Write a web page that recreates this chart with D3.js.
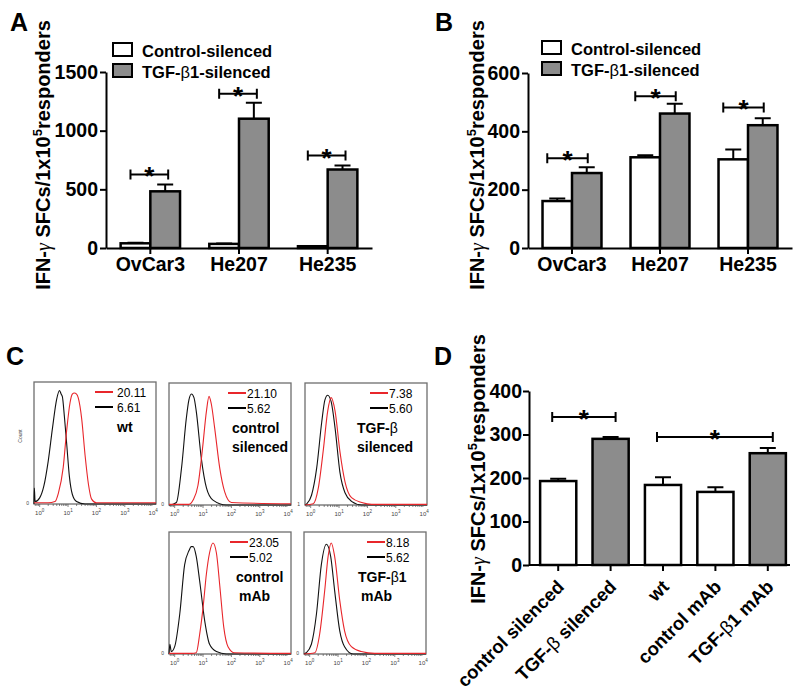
<!DOCTYPE html>
<html>
<head>
<meta charset="utf-8">
<script src="https://cdn.jsdelivr.net/npm/d3@7"></script>
<style>
  body { margin: 0; background: #fff; }
  text { font-family: "Liberation Sans", Arial, sans-serif; }
</style>
</head>
<body>
<svg id="fig" width="800" height="696"></svg>
<script>
// ---- data ----
const cellLines = ["OvCar3", "He207", "He235"];
const seriesNames = ["Control-silenced", "TGF-β1-silenced"];

// panel A (IFN-g SFCs, mean and mean+SEM)
const aControl = [40, 35, 15];
const aControlTop = [44, 39, 18];
const aTgf = [483, 1102, 669];
const aTgfTop = [542, 1237, 703];
const aSigLevel = [627, 1314, 788];

// panel B
const bControl = [161, 311, 304];
const bControlTop = [170, 318, 338];
const bTgf = [257, 461, 421];
const bTgfTop = [277, 495, 445];
const bSigLevel = [308, 520, 482];

// panel D
const dGroups = ["control silenced", "TGF-β silenced", "wt", "control mAb", "TGF-β1 mAb"];
const dValues = [193, 290, 184, 168, 257];
const dTop = [198, 294, 202, 179, 269];
const dFilled = [false, true, false, false, true];
const dSig = [[0, 1, 340], [2, 4, 294]];

// panel C: histograms as [log10 fluorescence, relative count]
const wtBlack = [[-0.2,0],[-0.19,0.13],[-0.16,0.02],[0,0.05],[0.15,0.15],[0.3,0.35],[0.45,0.62],[0.6,0.86],[0.7,0.93],[0.76,0.9],[0.8,0.88],[0.87,0.72],[0.95,0.5],[1.05,0.22],[1.15,0.08],[1.3,0.02],[1.6,0],[4.1,0]];
const wtRed = [[-0.2,0.01],[0.3,0.01],[0.54,0.02],[0.66,0.09],[0.83,0.3],[0.95,0.6],[1.07,0.83],[1.15,0.9],[1.22,0.91],[1.3,0.9],[1.36,0.87],[1.48,0.7],[1.6,0.4],[1.72,0.16],[1.83,0.04],[2,0.01],[4.1,0.01]];
const csBlack = [[-0.2,0],[-0.17,0],[0.06,0.02],[0.24,0.3],[0.41,0.71],[0.5,0.86],[0.59,0.91],[0.68,0.88],[0.76,0.77],[0.94,0.38],[1.12,0.14],[1.35,0.04],[1.82,0],[4.1,0]];
const csRed = [[-0.2,0.005],[0.5,0.005],[0.65,0.04],[0.82,0.16],[0.98,0.46],[1.12,0.77],[1.21,0.89],[1.29,0.83],[1.41,0.63],[1.59,0.3],[1.76,0.11],[2,0.02],[4.1,0.01]];
const tsBlack = [[-0.2,0],[-0.14,0.01],[0.03,0.08],[0.21,0.3],[0.39,0.68],[0.5,0.86],[0.6,0.9],[0.72,0.85],[0.86,0.63],[1.03,0.27],[1.21,0.1],[1.44,0.03],[1.8,0],[4.1,0]];
const tsRed = [[-0.2,0],[0.09,0.01],[0.27,0.14],[0.45,0.46],[0.6,0.77],[0.72,0.88],[0.86,0.77],[1.03,0.44],[1.21,0.19],[1.44,0.06],[1.8,0.02],[2.15,0.005],[4.1,0.005]];
const cmBlack = [[-0.2,0],[-0.17,0.08],[-0.12,0.02],[0,0.06],[0.18,0.33],[0.35,0.73],[0.51,0.85],[0.58,0.88],[0.65,0.88],[0.76,0.8],[0.88,0.6],[1.06,0.27],[1.23,0.08],[1.47,0.02],[1.82,0],[4.1,0]];
const cmRed = [[-0.2,0.005],[0.6,0.005],[0.76,0.01],[0.88,0.16],[1,0.38],[1.12,0.66],[1.23,0.83],[1.35,0.91],[1.47,0.83],[1.59,0.56],[1.73,0.22],[1.88,0.06],[2.11,0.01],[4.1,0.005]];
const tmBlack = [[-0.2,0],[-0.12,0.01],[0.06,0.08],[0.24,0.33],[0.41,0.73],[0.59,0.9],[0.74,0.8],[0.88,0.52],[1.06,0.19],[1.23,0.06],[1.53,0],[4.1,0]];
const tmRed = [[-0.2,0],[0.18,0.01],[0.35,0.16],[0.53,0.52],[0.65,0.8],[0.76,0.91],[0.88,0.8],[1.06,0.44],[1.23,0.19],[1.47,0.06],[1.82,0.02],[2.29,0.005],[4.1,0.005]];

const facsLabels = [["wt"], ["control", "silenced"], ["TGF-β", "silenced"], ["control", "mAb"], ["TGF-β1", "mAb"]];
const mfiRed = ["20.11", "21.10", "7.38", "23.05", "8.18"];
const mfiBlack = ["6.61", "5.62", "5.60", "5.02", "5.62"];
const facsZero = ["0", "0", "1", "0", "0"];
const facsCurves = [[wtRed, wtBlack], [csRed, csBlack], [tsRed, tsBlack], [cmRed, cmBlack], [tmRed, tmBlack]];

// ---- drawing ----
const svg = d3.select("#fig");
const GREY = "#8c8c8c";
const FS = 19.5;

function panelLetter(x, y, t) {
  svg.append("text").attr("x", x).attr("y", y).text(t)
    .attr("font-size", 25).attr("font-weight", "bold");
}

function yLabel(x, cy) {
  const t = svg.append("text")
    .attr("transform", `translate(${x},${cy}) rotate(-90)`)
    .attr("text-anchor", "middle")
    .attr("font-size", 20).attr("font-weight", "bold");
  t.append("tspan").text("IFN-");
  t.append("tspan").text("γ").attr("font-weight", "normal")
    .attr("font-family", "'Liberation Serif', serif").attr("font-style", "italic");
  t.append("tspan").text(" SFCs/1x10");
  t.append("tspan").text("5").attr("font-size", 13).attr("dy", -8);
  t.append("tspan").text("responders").attr("dy", 8);
}

function betaText(sel, str) {
  // splits on β so the Greek letter is drawn lighter, as in the figure
  const parts = str.split("β");
  parts.forEach((p, i) => {
    if (i > 0) sel.append("tspan").text("β").attr("font-weight", "normal");
    sel.append("tspan").text(p);
  });
}

function styleAxis(g) {
  g.select(".domain").attr("stroke-width", 2);
  g.selectAll(".tick line").attr("stroke-width", 2);
  g.selectAll(".tick text").attr("font-size", FS).attr("font-weight", "bold")
    .attr("font-family", "'Liberation Sans', Arial, sans-serif").attr("fill", "#000");
}

function sigBracket(g, xa, xb, yy) {
  g.append("path")
    .attr("d", `M${xa},${yy - 5}V${yy + 5}M${xa},${yy}H${xb}M${xb},${yy - 5}V${yy + 5}`)
    .attr("stroke", "#000").attr("stroke-width", 2).attr("fill", "none");
  g.append("text").attr("x", (xa + xb) / 2).attr("y", yy + 11)
    .attr("text-anchor", "middle").attr("font-size", 26).attr("font-weight", "bold").text("*");
}

function errBar(g, cx, yv, yt) {
  g.append("path").attr("d", `M${cx},${yv}V${yt}M${cx - 8},${yt}H${cx + 8}`)
    .attr("stroke", "#000").attr("stroke-width", 2).attr("fill", "none");
}

function groupedPanel(cfg) {
  const g = svg.append("g");
  const y = d3.scaleLinear().domain([0, cfg.max]).range([cfg.yBottom, cfg.yTop]);
  const x0 = d3.scaleBand().domain(cellLines).range([cfg.xLeft, cfg.xRight])
    .paddingInner(0.33).paddingOuter(0.165);
  const x1 = d3.scaleBand().domain([0, 1]).range([0, x0.bandwidth()]);
  const series = [[cfg.control, cfg.controlTop], [cfg.tgf, cfg.tgfTop]];

  series.forEach(([vals, tops], s) => {
    cellLines.forEach((c, i) => {
      const bx = x0(c) + x1(s);
      const cx = bx + x1.bandwidth() / 2;
      errBar(g, cx, y(vals[i]), y(tops[i]));
      g.append("rect").attr("x", bx).attr("y", y(vals[i]))
        .attr("width", x1.bandwidth()).attr("height", y(0) - y(vals[i]))
        .attr("fill", s ? GREY : "#fff").attr("stroke", "#000").attr("stroke-width", 2.5);
    });
  });

  cellLines.forEach((c, i) => {
    const ca = x0(c) + x1(0) + x1.bandwidth() / 2;
    const cb = x0(c) + x1(1) + x1.bandwidth() / 2;
    sigBracket(g, ca + cfg.sigL, cb + cfg.sigR, y(cfg.sig[i]));
  });

  g.append("g").attr("transform", `translate(${cfg.xLeft},0)`)
    .call(d3.axisLeft(y).tickValues(cfg.ticks).tickFormat(d3.format("d"))
      .tickSize(6).tickSizeOuter(0).tickPadding(2))
    .call(styleAxis);
  g.append("g").attr("transform", `translate(0,${cfg.yBottom})`)
    .call(d3.axisBottom(x0).tickSize(6).tickSizeOuter(0).tickPadding(3))
    .call(styleAxis);

  // legend
  seriesNames.forEach((n, s) => {
    g.append("rect").attr("x", cfg.legX).attr("y", cfg.legY + s * 21)
      .attr("width", 19).attr("height", 13)
      .attr("fill", s ? GREY : "#fff").attr("stroke", "#000").attr("stroke-width", 2);
    const t = g.append("text").attr("x", cfg.legX + 29).attr("y", cfg.legY + 14 + s * 21)
      .attr("font-size", 16.5).attr("font-weight", "bold");
    betaText(t, n);
  });
}

// Panel A
panelLetter(10, 31, "A");
yLabel(50, 155);
groupedPanel({
  max: 1500, ticks: [0, 500, 1000, 1500], yBottom: 248, yTop: 72, xLeft: 106, xRight: 372,
  control: aControl, controlTop: aControlTop, tgf: aTgf, tgfTop: aTgfTop, sig: aSigLevel,
  sigL: -5, sigR: 3, legX: 113, legY: 43
});

// Panel B
panelLetter(435, 31, "B");
yLabel(484, 155);
groupedPanel({
  max: 600, ticks: [0, 200, 400, 600], yBottom: 248, yTop: 73, xLeft: 528, xRight: 792,
  control: bControl, controlTop: bControlTop, tgf: bTgf, tgfTop: bTgfTop, sig: bSigLevel,
  sigL: -10, sigR: 1, legX: 542, legY: 41
});

// Panel D
panelLetter(434, 365, "D");
yLabel(485, 469);
(function () {
  const g = svg.append("g");
  const xAxisX = 529, yBottom = 565;
  const y = d3.scaleLinear().domain([0, 400]).range([yBottom, 391]);
  const x = d3.scaleBand().domain(dGroups).range([532, 794]).paddingInner(0.31).paddingOuter(0.155);

  dGroups.forEach((c, i) => {
    const cx = x(c) + x.bandwidth() / 2;
    errBar(g, cx, y(dValues[i]), y(dTop[i]));
    g.append("rect").attr("x", x(c)).attr("y", y(dValues[i]))
      .attr("width", x.bandwidth()).attr("height", y(0) - y(dValues[i]))
      .attr("fill", dFilled[i] ? GREY : "#fff").attr("stroke", "#000").attr("stroke-width", 2.5);
  });
  dSig.forEach(([a, b, lvl]) => {
    const ca = x(dGroups[a]) + x.bandwidth() / 2;
    const cb = x(dGroups[b]) + x.bandwidth() / 2;
    sigBracket(g, ca - 6, cb + 5, y(lvl));
  });

  g.append("g").attr("transform", `translate(${xAxisX},0)`)
    .call(d3.axisLeft(y).tickValues([0, 100, 200, 300, 400]).tickSize(6).tickSizeOuter(0).tickPadding(1))
    .call(styleAxis);
  const xa = g.append("g").attr("transform", `translate(0,${yBottom})`)
    .call(d3.axisBottom(x).tickSize(6).tickSizeOuter(0))
    .call(styleAxis);
  xa.select(".domain").attr("d", `M${xAxisX},0H790`);
  xa.selectAll(".tick text").each(function (d) {
    const t = d3.select(this);
    t.text(null).attr("text-anchor", "end").attr("dy", null).attr("y", null)
      .attr("font-size", 18.5)
      .attr("transform", "translate(7,23) rotate(-45)");
    betaText(t, d);
  });
})();

// Panel C: flow cytometry histograms
panelLetter(6, 365, "C");
const facsBoxes = [[34, 382], [169, 383], [305, 383], [169, 532], [304, 532]];
const FW = 122, FH = 122;

facsBoxes.forEach(([bx, by], k) => {
  const g = svg.append("g");
  const x = d3.scaleLinear().domain([-0.2, 4.1]).range([bx, bx + FW]);
  const y = d3.scaleLinear().domain([0, 1]).range([by + FH, by]);
  const line = d3.line().x(d => x(d[0])).y(d => y(d[1])).curve(d3.curveMonotoneX);

  g.append("rect").attr("x", bx).attr("y", by).attr("width", FW).attr("height", FH)
    .attr("fill", "none").attr("stroke", "#6e6e6e").attr("stroke-width", 1.3);

  const [red, black] = facsCurves[k];
  g.append("path").datum(black).attr("d", line).attr("fill", "none")
    .attr("stroke", "#111").attr("stroke-width", 1.1);
  g.append("path").datum(red).attr("d", line).attr("fill", "none")
    .attr("stroke", "#e8262b").attr("stroke-width", 1.1);

  // log axis ticks
  const minor = [];
  for (let dec = -1; dec < 4; dec++) for (let m = 1; m < 10; m++) {
    const v = dec + Math.log10(m);
    if (v >= -0.2 && v <= 4.1) minor.push({ v, major: m === 1 });
  }
  g.selectAll(".mt").data(minor).enter().append("line")
    .attr("x1", d => x(d.v)).attr("x2", d => x(d.v))
    .attr("y1", by + FH).attr("y2", d => by + FH + (d.major ? 3 : 2))
    .attr("stroke", "#555").attr("stroke-width", 0.7);
  [0, 1, 2, 3, 4].forEach(p => {
    const t = g.append("text").attr("x", x(p)).attr("y", by + FH + 11)
      .attr("text-anchor", "middle").attr("font-size", 6).attr("fill", "#444");
    t.append("tspan").text("10");
    t.append("tspan").text(p).attr("font-size", 4.5).attr("dy", -3);
  });
  g.append("text").attr("x", bx - 5).attr("y", by + FH + 1).attr("text-anchor", "end")
    .attr("font-size", 5).attr("fill", "#444").text(facsZero[k]);

  // legend
  const legX = [95, 228, 370, 230, 367][k];
  [[mfiRed[k], "#e8262b", 10], [mfiBlack[k], "#000", 25]].forEach(([txt, col, dy]) => {
    g.append("line").attr("x1", legX).attr("x2", legX + 18)
      .attr("y1", by + dy).attr("y2", by + dy).attr("stroke", col).attr("stroke-width", 2);
    g.append("text").attr("x", legX + (k === 0 ? 22 : 19)).attr("y", by + dy + 4.5)
      .attr("font-size", 12).text(txt);
  });
  const labX = [117, 232, 357, 236, 358][k];
  facsLabels[k].forEach((l, j) => {
    const t = g.append("text").attr("x", labX + (j && k !== 1 && k !== 2 ? 3 : 0))
      .attr("y", by + 50 + j * 19).attr("font-size", 14).attr("font-weight", "bold");
    betaText(t, l);
  });
});
svg.append("text").attr("transform", "translate(22,436) rotate(-90)")
  .attr("text-anchor", "middle").attr("font-size", 5).attr("fill", "#444").text("Count");
</script>
</body>
</html>
